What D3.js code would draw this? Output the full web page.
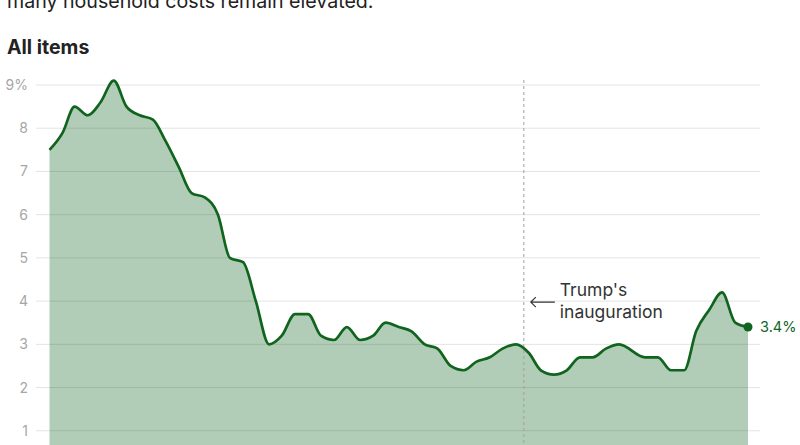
<!DOCTYPE html>
<html>
<head>
<meta charset="utf-8">
<script src="https://cdn.jsdelivr.net/npm/d3@7"></script>
<style>
  body { margin: 0; background: #fff; }
  svg { display: block; font-family: Inter, "Noto Sans", sans-serif; }
</style>
</head>
<body>
<svg id="chart" width="800" height="445"></svg>
<script>
// monthly CPI, year over year % (Oct 2025 has no reading)
const months = [
  "2022-01","2022-02","2022-03","2022-04","2022-05","2022-06","2022-07","2022-08","2022-09","2022-10","2022-11","2022-12",
  "2023-01","2023-02","2023-03","2023-04","2023-05","2023-06","2023-07","2023-08","2023-09","2023-10","2023-11","2023-12",
  "2024-01","2024-02","2024-03","2024-04","2024-05","2024-06","2024-07","2024-08","2024-09","2024-10","2024-11","2024-12",
  "2025-01","2025-02","2025-03","2025-04","2025-05","2025-06","2025-07","2025-08","2025-09","2025-11","2025-12",
  "2026-01","2026-02","2026-03","2026-04","2026-05","2026-06","2026-07"
];
const values = [
  7.5, 7.9, 8.5, 8.3, 8.6, 9.1, 8.5, 8.3, 8.2, 7.7, 7.1, 6.5,
  6.4, 6.0, 5.0, 4.9, 4.0, 3.0, 3.2, 3.7, 3.7, 3.2, 3.1, 3.4,
  3.1, 3.2, 3.5, 3.4, 3.3, 3.0, 2.9, 2.5, 2.4, 2.6, 2.7, 2.9,
  3.0, 2.8, 2.4, 2.3, 2.4, 2.7, 2.7, 2.9, 3.0, 2.7, 2.7,
  2.4, 2.4, 3.3, 3.8, 4.2, 3.5, 3.4
];
const yTicks = [1, 2, 3, 4, 5, 6, 7, 8, 9];
const inauguration = "2025-01-20";

const parse = d3.timeParse("%Y-%m");
const data = months.map((m, i) => ({ date: parse(m), value: values[i] }));

const svg = d3.select("#chart");
const green = "#10641e";

const x = d3.scaleTime()
  .domain([parse("2022-01"), parse("2026-07")])
  .range([49.5, 748]);
const y = d3.scaleLinear().domain([0, 9]).range([474, 85]);

// heading text (top line is cut off by the frame, as in the original)
svg.append("text")
  .attr("x", 7).attr("y", 8)
  .attr("font-size", 19.6).attr("fill", "#222")
  .text("many household costs remain elevated.");
svg.append("text")
  .attr("x", 7).attr("y", 54)
  .attr("font-size", 19.5).attr("font-weight", 700).attr("fill", "#222")
  .text("All items");

// gridlines
const grid = svg.append("g");
grid.selectAll("line").data(yTicks).join("line")
  .attr("x1", 36).attr("x2", 760)
  .attr("y1", d => y(d)).attr("y2", d => y(d))
  .attr("stroke", "#e3e3e3").attr("stroke-width", 1);

const yAxis = svg.append("g").attr("transform", "translate(28,0)")
  .call(d3.axisLeft(y).tickValues(yTicks).tickSize(0).tickPadding(0)
    .tickFormat(d => d === 9 ? "9%" : d));
yAxis.select(".domain").remove();
yAxis.selectAll("text")
  .attr("font-family", "Inter, sans-serif")
  .attr("font-size", 14).attr("fill", "#a6a6a6");

// area + line
const area = d3.area().curve(d3.curveMonotoneX)
  .x(d => x(d.date)).y0(y(0)).y1(d => y(d.value));
const line = d3.line().curve(d3.curveMonotoneX)
  .x(d => x(d.date)).y(d => y(d.value));

svg.append("path").datum(data)
  .attr("d", area)
  .attr("fill", green).attr("fill-opacity", 0.32);

// inauguration marker
const xi = x(d3.timeParse("%Y-%m-%d")(inauguration));
svg.append("line")
  .attr("x1", xi).attr("x2", xi).attr("y1", 80).attr("y2", 445)
  .attr("stroke", "#a0a0a0").attr("stroke-width", 1)
  .attr("stroke-dasharray", "3,3");

svg.append("path").datum(data)
  .attr("d", line)
  .attr("fill", "none").attr("stroke", green)
  .attr("stroke-width", 2.7).attr("stroke-linejoin", "round");

svg.append("path")
  .attr("d", `M${xi + 31},${y(4) + 1} H${xi + 7} M${xi + 12},${y(4) - 4} L${xi + 7},${y(4) + 1} L${xi + 12},${y(4) + 6}`)
  .attr("fill", "none").attr("stroke", "#333").attr("stroke-width", 1.2);
const note = svg.append("text")
  .attr("font-size", 17.5).attr("fill", "#333");
note.append("tspan").attr("x", xi + 36).attr("y", 296).text("Trump's");
note.append("tspan").attr("x", xi + 36).attr("y", 318).text("inauguration");

// last point
const last = data[data.length - 1];
svg.append("circle")
  .attr("cx", x(last.date)).attr("cy", y(last.value)).attr("r", 4.5)
  .attr("fill", green);
svg.append("text")
  .attr("x", x(last.date) + 12).attr("y", y(last.value))
  .attr("dy", "0.35em").attr("font-size", 14.5).attr("fill", green)
  .text(last.value + "%");
</script>
</body>
</html>
